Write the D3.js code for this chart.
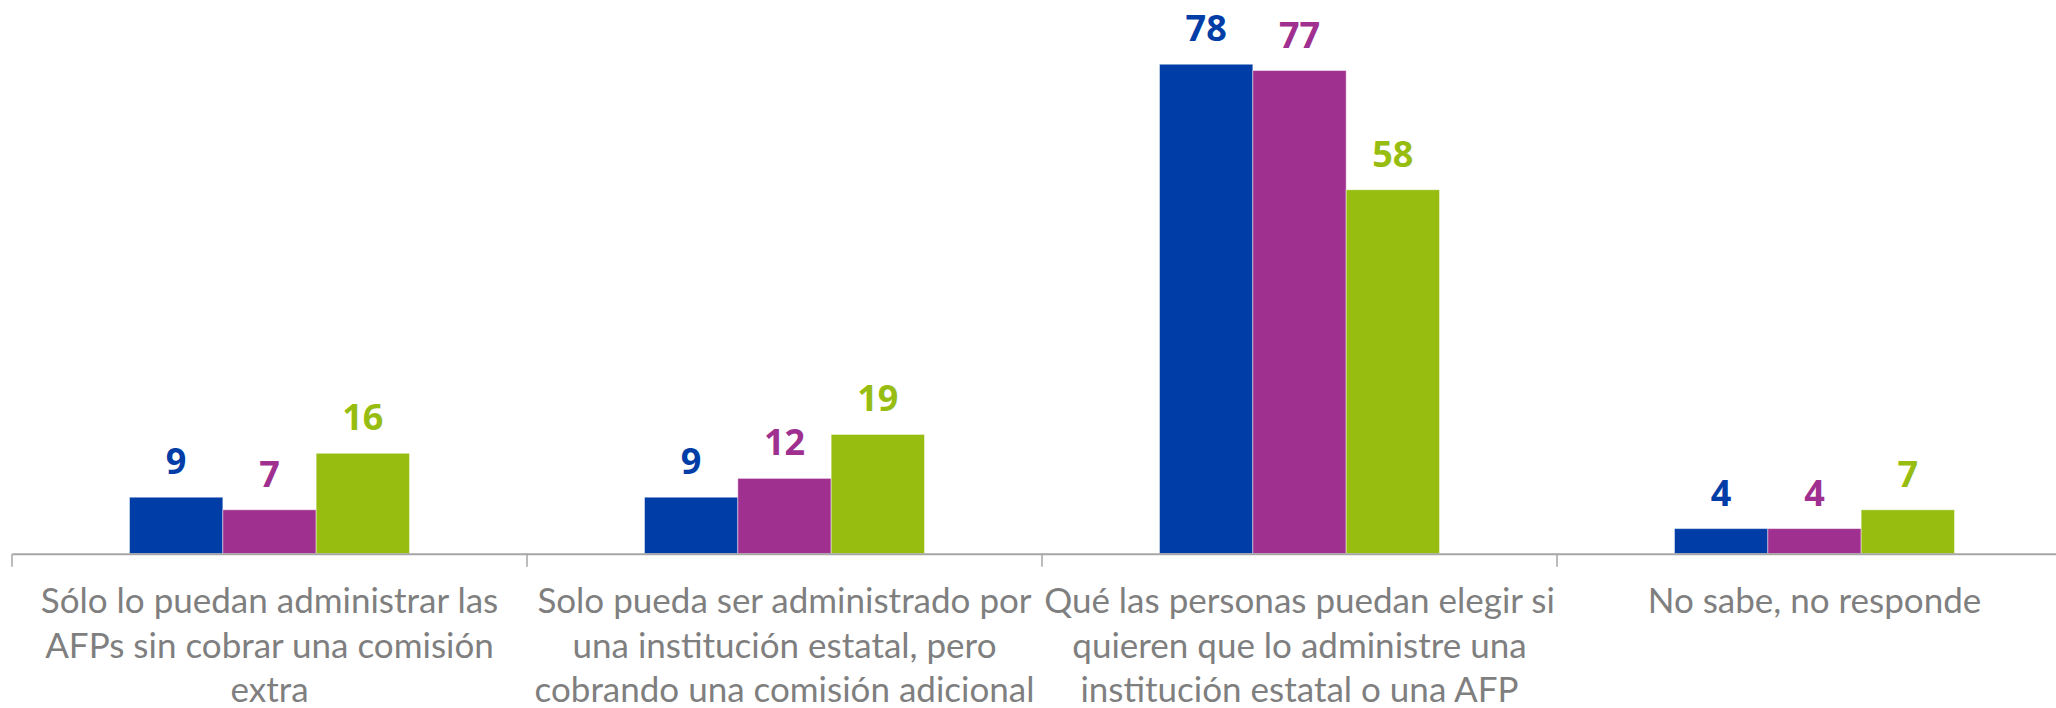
<!DOCTYPE html>
<html><head><meta charset="utf-8">
<script src="https://cdn.jsdelivr.net/npm/d3@7"></script>
<style>html,body{margin:0;padding:0;background:#fff;overflow:hidden}</style>
</head><body>
<svg id="c" width="2056" height="708"></svg>
<script>
const categories = [
  "Sólo lo puedan administrar las AFPs sin cobrar una comisión extra",
  "Solo pueda ser administrado por una institución estatal, pero cobrando una comisión adicional",
  "Qué las personas puedan elegir si quieren que lo administre una institución estatal o una AFP",
  "No sabe, no responde"
];
const categoryLines = [
  ["Sólo lo puedan administrar las", "AFPs sin cobrar una comisión", "extra"],
  ["Solo pueda ser administrado por", "una institución estatal, pero", "cobrando una comisión adicional"],
  ["Qué las personas puedan elegir si", "quieren que lo administre una", "institución estatal o una AFP"],
  ["No sabe, no responde"]
];
const seriesNames = ["Serie 1", "Serie 2", "Serie 3"];
const series1 = [9, 9, 78, 4];
const series2 = [7, 12, 77, 4];
const series3 = [16, 19, 58, 7];
const seriesValues = [series1, series2, series3];
const colors = ["#003DA6", "#A0308F", "#97BD10"];

const svg = d3.select("#c");
const baseY = 553.7;
const x0 = d3.scaleBand().domain(categories).range([12, 12 + 4 * 515]).padding(0);
const x1 = d3.scaleBand().domain(seriesNames).range([117.5, 397.5]).padding(0);
const y = d3.scaleLinear().domain([0, 80]).range([baseY, baseY - 80 * 6.275]);

// bars
categories.forEach((c, ci) => {
  const g = svg.append("g").attr("transform", `translate(${x0(c)},0)`);
  seriesNames.forEach((s, si) => {
    const v = seriesValues[si][ci];
    g.append("rect")
      .attr("x", x1(s)).attr("width", x1.bandwidth())
      .attr("y", y(v)).attr("height", y(0) - y(v))
      .attr("fill", colors[si])
      .attr("stroke", "rgba(255,255,255,0.45)").attr("stroke-width", 1);
    g.append("text")
      .attr("x", x1(s) + x1.bandwidth() / 2)
      .attr("y", y(v) - 23)
      .attr("text-anchor", "middle")
      .attr("font-family", "'Open Sans', sans-serif")
      .attr("font-weight", "bold")
      .attr("font-size", 36)
      .attr("fill", colors[si])
      .text(v);
  });
});

// axis
const axis = d3.axisBottom(x0).tickSize(0).tickFormat("");
const ag = svg.append("g").attr("transform", `translate(0,${baseY})`).call(axis);
ag.select(".domain").attr("stroke", "#A6A6A6").attr("stroke-width", 2);
const boundaries = categories.map(c => x0(c)).concat([x0.range()[1]]);
ag.selectAll("line.tk").data(boundaries).enter().append("line")
  .attr("class", "tk")
  .attr("x1", d => d).attr("x2", d => d)
  .attr("y1", 0).attr("y2", 13)
  .attr("stroke", "#A6A6A6").attr("stroke-width", 1.5);

// category labels
categories.forEach((c, ci) => {
  const t = svg.append("text")
    .attr("text-anchor", "middle")
    .attr("font-family", "Lato, sans-serif")
    .attr("font-size", 35)
    .attr("fill", "#7F7F7F");
  categoryLines[ci].forEach((ln, li) => {
    t.append("tspan")
      .attr("x", x0(c) + x0.bandwidth() / 2)
      .attr("y", 613 + li * 44.5)
      .text(ln);
  });
});
</script>
</body></html>
